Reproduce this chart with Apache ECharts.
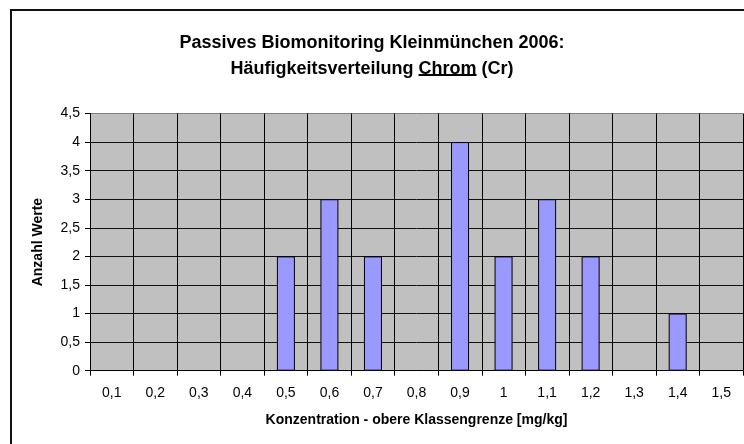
<!DOCTYPE html>
<html>
<head>
<meta charset="utf-8">
<script src="https://cdn.jsdelivr.net/npm/echarts@6/dist/echarts.min.js"></script>
<style>
html,body{margin:0;padding:0;background:#fff;}
#c{width:744px;height:444px;}
</style>
</head>
<body>
<div id="c"></div>
<script>
var categories = ['0,1','0,2','0,3','0,4','0,5','0,6','0,7','0,8','0,9','1','1,1','1,2','1,3','1,4','1,5'];
var counts = [0,0,0,0,2,3,2,0,4,2,3,2,0,1,0];
var yTicks = [0,0.5,1,1.5,2,2.5,3,3.5,4,4.5];
var titleLine1 = 'Passives Biomonitoring Kleinmünchen 2006:';
var titlePre = 'Häufigkeitsverteilung ';
var titleUnder = 'Chrom';
var titlePost = ' (Cr)';

var FONT = '"Liberation Sans", Arial, sans-serif';
var TITLE_SIZE = 18;
var chart = echarts.init(document.getElementById('c'), null, {renderer:'canvas'});

// underline position computed from text metrics
var cv = document.createElement('canvas').getContext('2d');
cv.font = 'bold ' + TITLE_SIZE + 'px "Liberation Sans"';
var fullW = cv.measureText(titlePre + titleUnder + titlePost).width;
var preW = cv.measureText(titlePre).width;
var undW = cv.measureText(titleUnder).width;
var cx = 372;
var ux0 = cx - fullW/2 + preW;
var ux1 = ux0 + undW;

var splitColors = yTicks.map(function(v, i){ return i === yTicks.length-1 ? '#808080' : '#111'; });

chart.setOption({
  animation:false,
  textStyle:{fontFamily:FONT},
  title:{
    left:'center', top:25,
    text: titleLine1 + '\n' + titlePre + titleUnder + titlePost,
    textStyle:{fontFamily:FONT, fontSize:TITLE_SIZE, fontWeight:'bold', color:'#000', lineHeight:26}
  },
  graphic:[
    {type:'rect', shape:{x:11, y:10, width:900, height:600}, style:{fill:'none', stroke:'#111', lineWidth:2}, silent:true},
    {type:'line', shape:{x1:ux0, y1:75, x2:ux1, y2:75}, style:{stroke:'#000', lineWidth:2}, silent:true}
  ],
  grid:{left:90, right:1, top:113.5, bottom:73.3, show:true, backgroundColor:'#C0C0C0', borderWidth:0},
  xAxis:{
    type:'category', data:categories, boundaryGap:true,
    name:'Konzentration - obere Klassengrenze [mg/kg]', nameLocation:'middle', nameGap:42,
    nameTextStyle:{fontFamily:FONT, fontSize:14, fontWeight:'bold', color:'#000'},
    axisLine:{show:true, lineStyle:{color:'#000', width:1}},
    axisTick:{show:true, length:5, lineStyle:{color:'#000'}},
    axisLabel:{fontFamily:FONT, fontSize:14, color:'#000', margin:15, interval:0},
    splitLine:{show:true, interval:0, lineStyle:{color:'#000', width:1}}
  },
  yAxis:{
    type:'value', min:0, max:4.5, interval:0.5,
    name:'Anzahl Werte', nameLocation:'middle', nameGap:45, nameRotate:90,
    nameTextStyle:{fontFamily:FONT, fontSize:14, fontWeight:'bold', color:'#000'},
    axisLine:{show:true, lineStyle:{color:'#000', width:1}},
    axisTick:{show:true, length:5, lineStyle:{color:'#000'}},
    axisLabel:{fontFamily:FONT, fontSize:14, color:'#000', margin:10,
      formatter:function(v){ return String(v).replace('.', ','); }},
    splitLine:{show:true, lineStyle:{color:splitColors, width:1}}
  },
  series:[{
    type:'bar', data:counts.map(function(v){ return v === 0 ? null : v; }), barWidth:18,
    itemStyle:{color:'#9999FF', borderColor:'#000', borderWidth:1}
  }]
});
</script>
</body>
</html>
